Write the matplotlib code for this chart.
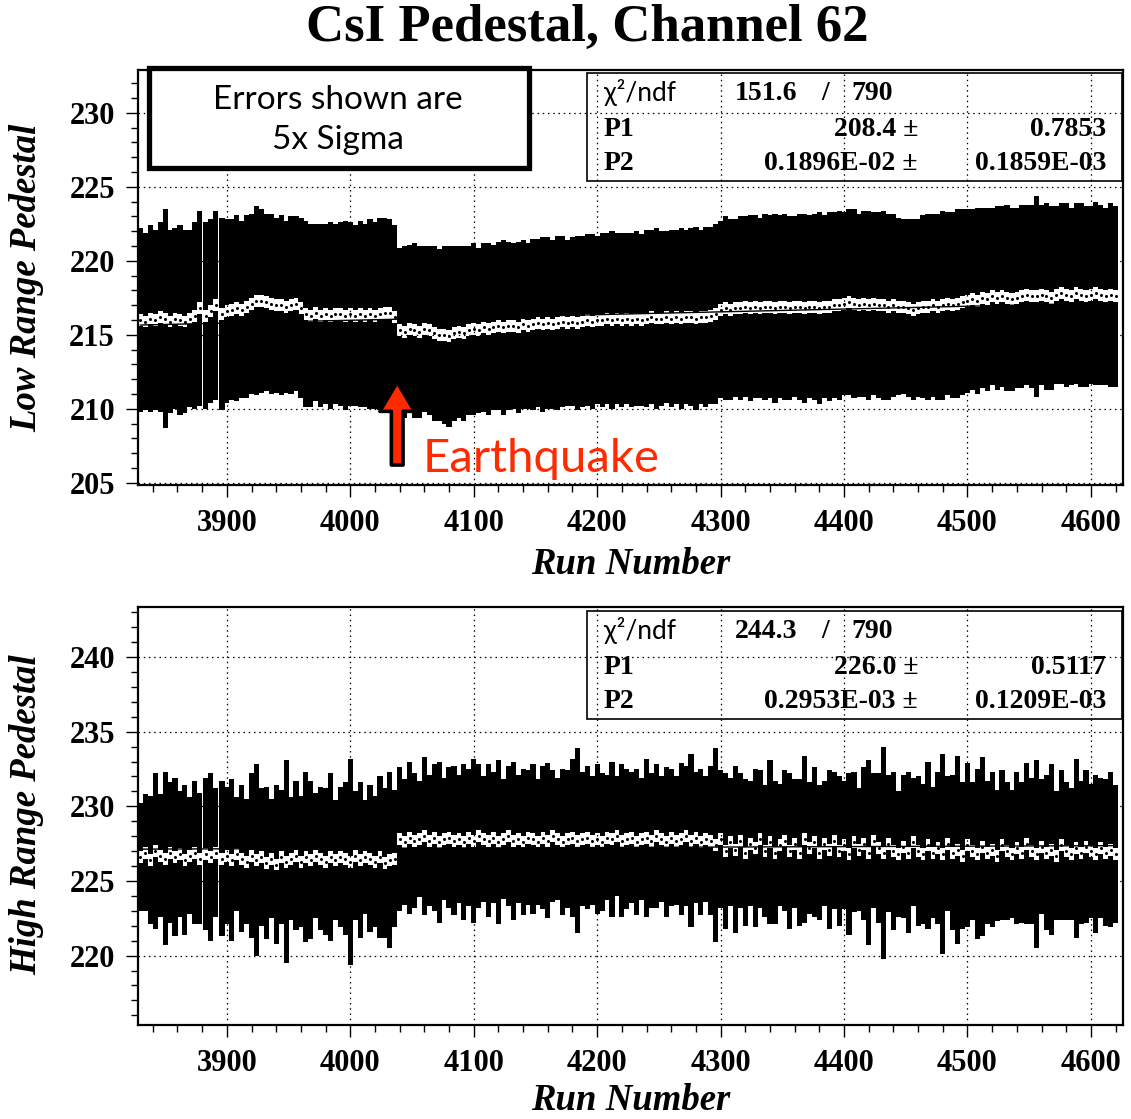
import numpy as np
import matplotlib.pyplot as plt
from matplotlib.patches import Rectangle
from matplotlib.ticker import MultipleLocator

# run numbers (every 4th run, with the two short gaps near 3880 and 3893)
runs = np.r_[np.arange(3830, 3879, 4), [3883, 3887, 3891], np.arange(3896, 4621, 4)]

# low range pedestal: mean and 5x sigma per run
low_mean = np.array([
    216.0, 215.9, 216.1, 216.0, 216.2, 216.1, 215.9, 216.1, 216.0, 215.9,
    216.1, 216.3, 216.8, 216.3, 216.6, 217.0, 216.4, 216.6, 216.7, 216.8,
    216.7, 216.9, 217.1, 217.3, 217.3, 217.2, 217.1, 217.0, 217.0, 216.9,
    217.0, 217.1, 216.8, 216.4, 216.3, 216.5, 216.3, 216.4, 216.3, 216.4,
    216.4, 216.3, 216.4, 216.3, 216.4, 216.3, 216.4, 216.3, 216.4, 216.5,
    216.5, 216.2, 215.3, 215.2, 215.4, 215.3, 215.2, 215.4, 215.3, 215.1,
    215.0, 215.0, 214.9, 215.1, 215.2, 215.1, 215.3, 215.4, 215.3, 215.5,
    215.4, 215.5, 215.6, 215.5, 215.6, 215.6, 215.5, 215.7, 215.6, 215.7,
    215.8, 215.7, 215.8, 215.7, 215.8, 215.9, 215.8, 215.9, 215.8, 215.9,
    216.0, 215.9, 216.0, 216.0, 216.1, 216.0, 216.1, 216.0, 216.1, 216.0,
    216.1, 216.0, 216.1, 216.2, 216.1, 216.1, 216.2, 216.1, 216.2, 216.1,
    216.2, 216.2, 216.1, 216.2, 216.2, 216.3, 216.4, 216.7, 216.8, 216.7,
    216.8, 216.8, 216.9, 216.8, 216.9, 216.8, 216.9, 216.9, 216.8, 216.9,
    216.9, 216.8, 216.9, 216.9, 216.8, 216.9, 216.9, 216.8, 216.9, 216.9,
    217.0, 217.0, 217.1, 217.2, 217.1, 217.0, 217.1, 217.0, 217.1, 217.0,
    217.0, 216.9, 217.0, 216.9, 216.9, 216.8, 216.7, 216.8, 216.9, 216.9,
    217.0, 216.9, 217.0, 217.1, 217.0, 217.1, 217.2, 217.3, 217.4, 217.3,
    217.5, 217.4, 217.6, 217.5, 217.6, 217.5, 217.4, 217.5, 217.6, 217.7,
    217.6, 217.6, 217.7, 217.6, 217.5, 217.7, 217.8, 217.7, 217.6, 217.8,
    217.7, 217.6, 217.7, 217.8, 217.7, 217.6, 217.7, 217.6])
low_err = np.array([
    6.2, 6.0, 6.3, 6.1, 6.4, 7.4, 6.2, 6.1, 6.4, 6.2,
    6.0, 6.3, 6.6, 6.3, 6.2, 6.4, 6.5, 6.2, 6.1, 6.3,
    6.0, 6.2, 6.1, 6.4, 6.2, 6.0, 6.1, 5.9, 6.1, 5.8,
    6.0, 5.9, 6.1, 6.3, 6.2, 6.0, 6.2, 6.1, 6.3, 6.1,
    6.2, 6.4, 6.2, 6.1, 6.3, 6.2, 6.4, 6.3, 6.5, 6.4,
    6.3, 6.2, 5.6, 5.8, 5.7, 5.9, 5.8, 5.6, 5.7, 5.9,
    5.8, 6.0, 6.1, 5.9, 5.8, 5.9, 5.7, 5.8, 5.6, 5.7,
    5.8, 5.6, 5.7, 5.9, 5.7, 5.6, 5.8, 5.7, 5.6, 5.8,
    5.7, 5.9, 5.8, 5.7, 5.9, 5.8, 5.6, 5.7, 5.9, 5.8,
    5.8, 5.9, 5.7, 5.9, 5.8, 6.0, 5.8, 5.9, 5.8, 5.9,
    5.9, 5.8, 6.0, 5.9, 6.1, 5.9, 5.8, 6.0, 5.9, 6.1,
    5.9, 6.0, 6.2, 5.9, 6.1, 6.0, 6.1, 6.0, 6.2, 6.1,
    6.0, 6.2, 6.1, 6.3, 6.2, 6.1, 6.3, 6.2, 6.4, 6.2,
    6.3, 6.2, 6.1, 6.3, 6.4, 6.2, 6.3, 6.5, 6.2, 6.4,
    6.3, 6.4, 6.2, 6.3, 6.4, 6.2, 6.3, 6.4, 6.2, 6.3,
    6.4, 6.3, 6.2, 6.0, 5.9, 6.0, 6.1, 6.0, 6.2, 6.3,
    6.2, 6.3, 6.4, 6.2, 6.3, 6.4, 6.3, 6.2, 6.1, 6.3,
    6.1, 6.2, 6.0, 6.2, 6.1, 6.3, 6.2, 6.1, 6.2, 6.1,
    6.2, 6.8, 6.1, 6.3, 6.2, 6.0, 6.1, 6.2, 6.0, 6.1,
    6.2, 6.1, 6.0, 6.2, 6.1, 6.0, 6.2, 6.1])

# high range pedestal: mean and 5x sigma per run
high_mean = np.array([
    226.6, 226.9, 226.4, 227.0, 226.7, 226.5, 226.9, 226.6, 226.8, 226.4,
    226.7, 226.9, 226.5, 226.8, 226.6, 226.9, 226.5, 226.7, 226.4, 226.8,
    226.5, 226.3, 226.7, 226.4, 226.6, 226.2, 226.5, 226.1, 226.6, 226.3,
    226.5, 226.7, 226.3, 226.6, 226.4, 226.7, 226.5, 226.3, 226.6, 226.4,
    226.6, 226.5, 226.3, 226.7, 226.4, 226.6, 226.5, 226.3, 226.6, 226.2,
    226.4, 226.5, 227.8, 227.6, 227.9, 227.7, 227.8, 228.0, 227.7, 227.9,
    227.6, 227.8, 227.9, 227.7, 227.8, 227.6, 227.9, 227.7, 228.0, 227.8,
    227.7, 227.9, 227.6, 227.8, 228.0, 227.7, 227.8, 227.6, 227.9, 227.8,
    227.6, 227.9, 227.7, 228.0, 227.8, 227.6, 227.8, 227.9, 227.7, 227.8,
    227.9, 227.7, 227.8, 227.6, 227.9, 227.8, 228.0, 227.7, 227.8, 227.9,
    227.6, 227.8, 227.9, 227.7, 228.0, 227.8, 227.6, 227.9, 227.7, 227.8,
    228.0, 227.7, 227.9, 227.6, 227.8, 227.7, 227.4, 227.8, 227.0, 227.6,
    227.1, 227.7, 226.9, 227.5, 227.2, 227.8, 227.0, 227.6, 226.9, 227.4,
    227.7, 227.0, 227.5, 226.9, 227.8, 227.2, 227.6, 226.9, 227.5, 227.1,
    227.7, 227.0, 227.4, 226.8, 227.6, 227.1, 227.5, 226.9, 227.7, 227.2,
    226.9, 227.5, 227.0, 226.8, 227.3, 226.9, 227.6, 227.0, 226.8, 227.4,
    226.9, 227.2, 226.8, 227.5, 226.9, 227.1, 226.7, 227.4, 227.0, 226.8,
    227.3, 226.9, 227.1, 226.7, 227.4, 227.0, 226.8, 227.2, 226.9, 227.5,
    227.0, 226.8, 227.3, 226.9, 227.1, 226.7, 227.4, 227.0, 226.8, 227.2,
    226.9, 227.3, 227.0, 226.8, 227.2, 226.9, 227.1, 226.8])
high_err = np.array([
    3.6, 3.9, 4.3, 5.2, 4.1, 5.8, 4.7, 5.3, 4.2, 5.0,
    3.9, 4.8, 4.4, 5.1, 5.6, 4.3, 5.2, 4.6, 5.4, 3.8,
    4.9, 4.2, 5.5, 6.4, 4.6, 5.1, 4.0, 5.3, 4.5, 6.8,
    4.1, 5.0, 4.4, 5.7, 5.3, 4.2, 4.8, 4.9, 5.6, 4.0,
    4.7, 5.1, 6.9, 4.3, 5.2, 3.8, 4.9, 4.4, 5.4, 5.0,
    5.9, 4.6, 4.8, 4.2, 5.1, 4.5, 3.9, 5.3, 4.4, 4.9,
    5.4, 4.1, 4.7, 5.0, 4.3, 5.2, 4.6, 5.5, 4.8, 4.2,
    5.1, 4.4, 5.5, 4.0, 4.7, 5.3, 4.3, 4.9, 4.5, 5.0,
    4.2, 4.8, 5.2, 4.4, 4.1, 4.9, 4.6, 5.3, 6.2, 4.5,
    4.8, 4.3, 5.0, 4.6, 4.2, 5.2, 4.0, 5.1, 4.7, 4.4,
    4.9, 4.1, 5.3, 4.5, 4.8, 4.2, 5.0, 4.6, 4.3, 5.1,
    4.7, 5.8, 4.4, 4.9, 4.2, 5.0, 6.5, 4.6, 5.2, 4.3,
    5.6, 4.5, 4.9, 4.2, 5.3, 4.6, 4.4, 5.5, 4.8, 4.1,
    4.7, 5.2, 4.3, 4.9, 5.6, 4.4, 5.0, 4.5, 4.2, 5.3,
    4.6, 5.0, 4.3, 5.4, 4.7, 4.1, 5.1, 6.2, 4.5, 5.0,
    7.1, 4.6, 5.3, 4.2, 4.8, 5.4, 4.3, 5.0, 4.7, 5.6,
    4.4, 5.1, 6.7, 4.5, 5.2, 6.3, 4.9, 5.5, 4.6, 5.7,
    6.0, 4.8, 5.2, 4.4, 5.0, 4.6, 4.3, 5.1, 4.7, 5.4,
    4.9, 6.3, 4.5, 5.2, 5.7, 4.3, 5.0, 4.6, 4.4, 6.0,
    4.8, 5.1, 4.5, 5.3, 4.7, 4.9, 5.2, 4.6])

# straight line fits  p1 + p2*run
low_fit = [208.4, 0.1896e-02]
low_fit_err = [0.7853, 0.1859e-03]
low_chi2 = 151.6
high_fit = [226.0, 0.2953e-03]
high_fit_err = [0.5117, 0.1209e-03]
high_chi2 = 244.3
ndf = 790

serif = 'Liberation Serif'
sans = ['Lato', 'DejaVu Sans']
quake_red = '#ff2a00'

W, H = 1131, 1119
fig = plt.figure(figsize=(W / 100, H / 100), dpi=100)


def fx(x):
    return x / W


def fy(y):
    return 1 - y / H


def sci(v):
    # fortran style mantissa/exponent, e.g. 0.1896E-02
    e = int(np.floor(np.log10(abs(v)))) + 1
    return '%.4fE%+03d' % (v / 10.0 ** e, e)


def draw_panel(ax, mean, err, fit, ylim):
    gap = 0.4
    ax.bar(runs, err - gap, bottom=mean - err, width=4.2, color='black',
           linewidth=0, zorder=2)
    ax.bar(runs, err - gap, bottom=mean + gap, width=4.2, color='black',
           linewidth=0, zorder=2)
    ax.plot(runs, mean, 'o', ms=2.2, color='black', mec='none', zorder=3)
    xs = np.array([runs[0], runs[-1]])
    ax.plot(xs, fit[0] + fit[1] * xs, color='black', lw=1.0, zorder=4)

    ax.set_xlim(3828, 4626)
    ax.set_ylim(*ylim)
    ax.xaxis.set_major_locator(MultipleLocator(100))
    ax.xaxis.set_minor_locator(MultipleLocator(20))
    ax.yaxis.set_major_locator(MultipleLocator(5))
    ax.yaxis.set_minor_locator(MultipleLocator(1))
    ax.set_axisbelow(True)
    ax.grid(True, which='major', color='black', ls=(0, (1.2, 3.0)), lw=0.9)
    ax.tick_params(which='major', direction='out', length=8.6, width=1.0)
    ax.tick_params(which='minor', direction='out', length=5.2, width=1.0)
    ax.tick_params(axis='x', which='major', pad=9, labelsize=22)
    ax.tick_params(axis='y', which='major', pad=8, labelsize=22)
    for lab in ax.get_xticklabels() + ax.get_yticklabels():
        lab.set_fontfamily(serif)
        lab.set_fontweight('bold')
    for sp in ax.spines.values():
        sp.set_linewidth(1.6)


def stats_box(top, chi2, fit, fit_err):
    fig.add_artist(Rectangle((fx(587), fy(top + 108)), fx(1122) - fx(587),
                             fy(top) - fy(top + 108), fill=False,
                             ec='black', lw=1.2, zorder=6))
    r1, r2, r3 = top + 20, top + 56, top + 91
    fig.text(fx(604), fy(r1), 'χ²/ndf', family=sans, fontsize=19,
             ha='left', va='center', zorder=7)
    fig.text(fx(735), fy(r1), '%.1f' % chi2, family=serif, weight='bold',
             fontsize=20, ha='left', va='center', zorder=7)
    fig.text(fx(825), fy(r1), '/', family=serif, weight='bold',
             fontsize=20, ha='center', va='center', zorder=7)
    fig.text(fx(851), fy(r1), '%d' % ndf, family=serif, weight='bold',
             fontsize=20, ha='left', va='center', zorder=7)
    for row, name, val, err in [(r2, 'P1', '%.1f' % fit[0], '%.4f' % fit_err[0]),
                                (r3, 'P2', sci(fit[1]), sci(fit_err[1]))]:
        fig.text(fx(604), fy(row), name, family=serif, weight='bold',
                 fontsize=20, ha='left', va='center', zorder=7)
        fig.text(fx(918), fy(row), val + ' ±', family=serif, weight='bold',
                 fontsize=20, ha='right', va='center', zorder=7)
        fig.text(fx(1106), fy(row), err, family=serif, weight='bold',
                 fontsize=20, ha='right', va='center', zorder=7)


ax1 = fig.add_axes([fx(138), fy(485), fx(1123) - fx(138), fy(70) - fy(485)])
ax2 = fig.add_axes([fx(138), fy(1025), fx(1123) - fx(138), fy(607) - fy(1025)])

draw_panel(ax1, low_mean, low_err, low_fit, (204.85, 232.9))
draw_panel(ax2, high_mean, high_err, high_fit, (215.35, 243.35))

fig.text(fx(587), fy(28), 'CsI Pedestal, Channel 62', family=serif,
         weight='bold', fontsize=38, ha='center', va='center')
for ycen, label in [(565, 'Run Number'), (1101, 'Run Number')]:
    fig.text(fx(631), fy(ycen), label, family=serif, weight='bold',
             style='italic', fontsize=26.5, ha='center', va='center')
fig.text(fx(27), fy(278), 'Low Range Pedestal', family=serif, weight='bold',
         style='italic', fontsize=26.5, rotation=90, ha='center', va='center')
fig.text(fx(27), fy(815), 'High Range Pedestal', family=serif, weight='bold',
         style='italic', fontsize=26.5, rotation=90, ha='center', va='center')

stats_box(73, low_chi2, low_fit, low_fit_err)
stats_box(611, high_chi2, high_fit, high_fit_err)

# note box in the upper left corner
fig.add_artist(Rectangle((fx(149), fy(168)), fx(529) - fx(149),
                         fy(68) - fy(168), fc='white', ec='black',
                         lw=3.8, zorder=6))
fig.text(fx(338), fy(100), 'Errors shown are', family=sans, fontsize=24,
         ha='center', va='center', zorder=7)
fig.text(fx(338), fy(140), '5x Sigma', family=sans, fontsize=24,
         ha='center', va='center', zorder=7)

# earthquake marker
ax1.annotate('', xy=(4038, 211.8), xytext=(4038, 206.2),
             arrowprops=dict(arrowstyle='simple,head_length=1.05,head_width=1.25,tail_width=0.42',
                             mutation_scale=20, fc=quake_red, ec='black',
                             lw=2.6, shrinkA=0, shrinkB=0),
             annotation_clip=False, zorder=8)
fig.text(fx(423), fy(459), 'Earthquake', family=sans, fontsize=34,
         color=quake_red, ha='left', va='center', zorder=8)

fig.savefig('out.png', dpi=100)
